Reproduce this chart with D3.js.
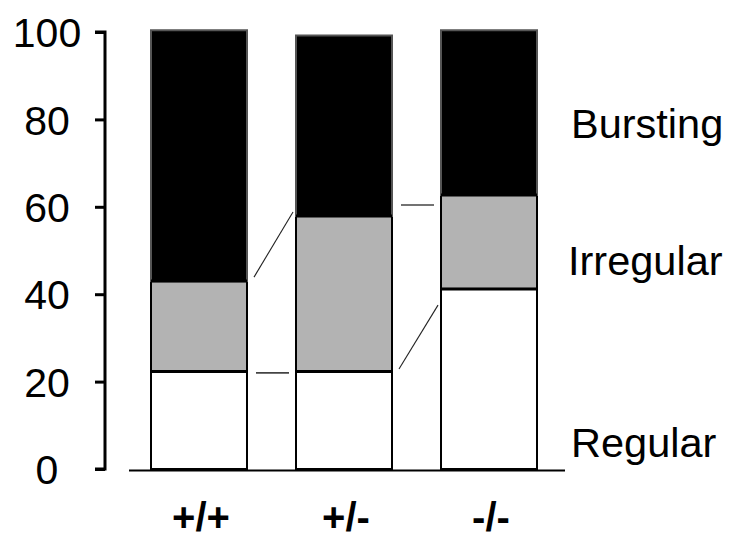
<!DOCTYPE html>
<html>
<head>
<meta charset="utf-8">
<script src="https://cdn.jsdelivr.net/npm/d3@7"></script>
<style>
  html, body { margin: 0; padding: 0; background: #fff; }
  svg { display: block; font-family: "Liberation Sans", Arial, sans-serif; }
</style>
</head>
<body>
<svg id="chart" width="736" height="543"></svg>
<script>
// Genotypes along the x axis
const genotypes = ["+/+", "+/-", "-/-"];
// Firing pattern percentages, stacked bottom to top
const regular   = [22.3, 22.3, 41.2];
const irregular = [20.7, 35.6, 21.5];
const bursting  = [57.4, 41.3, 37.7];
const patternNames = ["Regular", "Irregular", "Bursting"];
const patternFills = ["#ffffff", "#b3b3b3", "#000000"];
const yTicks = [0, 20, 40, 60, 80, 100];
// Guide lines drawn in the gaps between neighbouring bars (from -> to, in %)
const guides = [
  { gap: 0, from: 22.0, to: 22.0 },
  { gap: 0, from: 43.9, to: 58.8 },
  { gap: 1, from: 60.4, to: 60.4 },
  { gap: 1, from: 22.9, to: 37.5 }
];

const svg = d3.select("#chart");

const y = d3.scaleLinear().domain([0, 100]).range([469, 32]);
const x = d3.scaleBand().domain(genotypes).range([151, 537])
  .paddingInner(0.338).paddingOuter(0);

const rows = genotypes.map((g, i) => ({
  g, Regular: regular[i], Irregular: irregular[i], Bursting: bursting[i]
}));
const stacked = d3.stack().keys(patternNames)(rows);

// Bars
stacked.forEach((layer, li) => {
  svg.append("g").selectAll("rect").data(layer).join("rect")
    .attr("x", d => x(d.data.g))
    .attr("y", d => y(d[1]))
    .attr("width", x.bandwidth())
    .attr("height", d => y(d[0]) - y(d[1]))
    .attr("fill", patternFills[li])
    .attr("stroke", li === 2 ? "#555" : "#000")
    .attr("stroke-width", 2);
});
// Heavier boundary between stacked segments
stacked.slice(0, 2).forEach(layer => {
  svg.append("g").selectAll("line").data(layer).join("line")
    .attr("x1", d => x(d.data.g))
    .attr("x2", d => x(d.data.g) + x.bandwidth())
    .attr("y1", d => y(d[1]))
    .attr("y2", d => y(d[1]))
    .attr("stroke", "#000").attr("stroke-width", 3);
});

// Guide lines between bars
svg.append("g").selectAll("line").data(guides).join("line")
  .attr("x1", d => x(genotypes[d.gap]) + x.bandwidth() + (d.from === d.to ? 9 : 7))
  .attr("x2", d => x(genotypes[d.gap + 1]) - (d.from === d.to ? 7 : 3))
  .attr("y1", d => y(d.from))
  .attr("y2", d => y(d.to))
  .attr("stroke", d => d.from === d.to ? "#444" : "#222")
  .attr("stroke-width", d => d.from === d.to ? 1.6 : 1.1);

// Baseline under bars
svg.append("line")
  .attr("x1", 129).attr("x2", 565)
  .attr("y1", y(0) + 1.5).attr("y2", y(0) + 1.5)
  .attr("stroke", "#000").attr("stroke-width", 2);

// Y axis
const yAxis = svg.append("g").attr("transform", "translate(105,0)")
  .call(d3.axisLeft(y).tickValues(yTicks).tickSize(10).tickPadding(0).tickFormat(d3.format("d")));
yAxis.select(".domain").attr("stroke", "#000").attr("stroke-width", 3)
  .attr("d", `M-10,${y(100)}H0V${y(0)}H-10`);
yAxis.selectAll(".tick line").attr("stroke", "#000").attr("stroke-width", 3);
yAxis.selectAll(".tick text")
  .attr("x", -58).attr("text-anchor", "middle").attr("dy", "0.36em")
  .attr("fill", "#000")
  .style("font-size", "41px").style("font-family", "'Liberation Sans', Arial, sans-serif");

// Category labels
svg.append("g").selectAll("text").data(genotypes).join("text")
  .attr("x", d => x(d) + x.bandwidth() / 2 + 2)
  .attr("y", 531)
  .attr("text-anchor", "middle")
  .style("font-size", "40px").style("font-weight", "bold")
  .text(d => d);

// Series labels to the right of the bars
const seriesLabelPos = { Bursting: [571, 138], Irregular: [568, 275], Regular: [571, 457] };
svg.append("g").selectAll("text").data(patternNames).join("text")
  .attr("x", d => seriesLabelPos[d][0])
  .attr("y", d => seriesLabelPos[d][1])
  .style("font-size", "41.5px")
  .text(d => d);
</script>
</body>
</html>
